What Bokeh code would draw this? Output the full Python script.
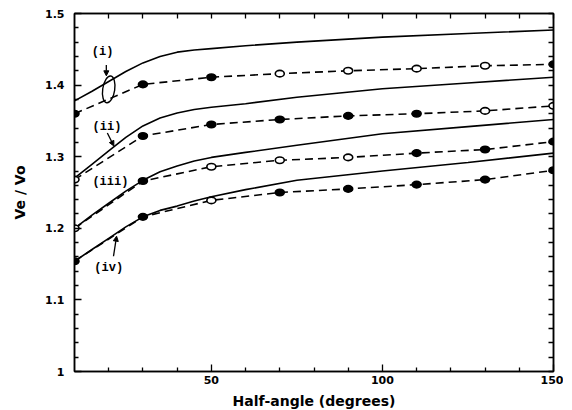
from bokeh.plotting import figure
from bokeh.models import (FixedTicker, LinearAxis, Range1d, Arrow, NormalHead,
                          CustomJSTickFormatter, ColumnDataSource, Label)
from bokeh.embed import file_html
from bokeh.resources import INLINE

# ---- data ----
x_pts = [10, 30, 50, 70, 90, 110, 130, 150]
i_dash = [1.360, 1.401, 1.411, 1.416, 1.420, 1.423, 1.427, 1.429]
ii_dash = [1.268, 1.329, 1.345, 1.352, 1.357, 1.360, 1.364, 1.371]
iii_dash = [1.200, 1.266, 1.286, 1.295, 1.299, 1.305, 1.310, 1.321]
iv_dash = [1.154, 1.216, 1.239, 1.250, 1.255, 1.261, 1.268, 1.281]

i_filled = [1, 1, 1, 0, 0, 0, 0, 1]
ii_filled = [0, 1, 1, 1, 1, 1, 0, 0]
iii_filled = [0, 1, 0, 0, 0, 1, 1, 1]
iv_filled = [1, 1, 0, 1, 1, 1, 1, 1]

x_solid = [10, 15, 20, 25, 30, 35, 40, 45, 50, 60, 75, 100, 125, 150]
i_solid = [1.378, 1.391, 1.405, 1.419, 1.431, 1.440, 1.446, 1.449, 1.451, 1.455, 1.460, 1.467, 1.472, 1.477]
ii_solid = [1.270, 1.289, 1.308, 1.327, 1.343, 1.354, 1.361, 1.366, 1.369, 1.374, 1.383, 1.395, 1.403, 1.411]
iii_solid = [1.200, 1.218, 1.235, 1.252, 1.267, 1.279, 1.287, 1.294, 1.299, 1.306, 1.316, 1.332, 1.342, 1.352]
iv_solid = [1.154, 1.170, 1.186, 1.202, 1.216, 1.225, 1.231, 1.238, 1.244, 1.254, 1.267, 1.280, 1.292, 1.305]

x_major = [50, 100, 150]
x_minor = [20, 30, 40, 60, 70, 80, 90, 110, 120, 130, 140]
y_major = [1.0, 1.1, 1.2, 1.3, 1.4, 1.5]
y_minor = [1.02, 1.04, 1.06, 1.08, 1.12, 1.14, 1.16, 1.18, 1.22, 1.24, 1.26, 1.28,
           1.32, 1.34, 1.36, 1.38, 1.42, 1.44, 1.46, 1.48]

curve_labels = ["(i)", "(ii)", "(iii)", "(iv)"]
label_x = [18.2, 19.5, 20.5, 20.0]
label_y = [1.446, 1.342, 1.264, 1.145]
arrow_start = [(19.3, 1.428), (19.6, 1.333), (21.4, 1.161)]
arrow_end = [(19.3, 1.413), (21.5, 1.315), (22.3, 1.189)]

FONT = "DejaVu Sans"

p = figure(frame_width=479, frame_height=358,
           x_range=Range1d(10, 150), y_range=Range1d(1.0, 1.5),
           output_backend="svg", toolbar_location=None,
           min_border_left=74, min_border_top=13, min_border_right=10,
           min_border_bottom=0, x_axis_label="Half-angle (degrees)",
           y_axis_label="Ve / Vo")
p.xgrid.visible = False
p.ygrid.visible = False
p.outline_line_color = "black"
p.outline_line_width = 1.5
p.background_fill_color = "white"

xt = FixedTicker(ticks=x_major, minor_ticks=x_minor)
yt = FixedTicker(ticks=y_major, minor_ticks=y_minor)

def style(ax):
    ax.axis_line_width = 1.5
    ax.axis_line_color = "black"
    ax.major_tick_in = 7
    ax.major_tick_out = 0
    ax.minor_tick_in = 4
    ax.minor_tick_out = 0
    ax.major_tick_line_width = 1.3
    ax.minor_tick_line_width = 1.3
    ax.major_label_text_font = FONT
    ax.major_label_text_font_style = "bold"
    ax.major_label_text_font_size = "11px"
    ax.major_label_text_color = "black"
    ax.axis_label_text_font = FONT
    ax.axis_label_text_font_style = "bold"
    ax.axis_label_text_font_size = "14px"
    ax.axis_label_text_color = "black"

p.xaxis.ticker = xt
p.yaxis.ticker = yt
p.yaxis.formatter = CustomJSTickFormatter(code="return tick.toFixed(1).replace(/\\.0$/, '');")
style(p.xaxis[0])
style(p.yaxis[0])
p.xaxis.major_label_standoff = 4
p.xaxis.axis_label_standoff = 6
p.yaxis.major_label_standoff = 10
p.yaxis.axis_label_standoff = 14
p.yaxis.major_label_orientation = "horizontal"

# top and right axes: ticks only, no labels
top = LinearAxis(ticker=FixedTicker(ticks=[], minor_ticks=x_major + x_minor),
                 major_label_standoff=0)
style(top)
top.minor_tick_in = 5
p.add_layout(top, "above")
right = LinearAxis(ticker=FixedTicker(ticks=[], minor_ticks=y_major + y_minor),
                   major_label_standoff=0)
style(right)
right.minor_tick_in = 5
p.add_layout(right, "right")

dash_series = [i_dash, ii_dash, iii_dash, iv_dash]
fill_series = [i_filled, ii_filled, iii_filled, iv_filled]
solid_series = [i_solid, ii_solid, iii_solid, iv_solid]

for ys in solid_series:
    p.line(x_solid, ys, line_color="black", line_width=1.6)

for ys, fl in zip(dash_series, fill_series):
    p.line(x_pts, ys, line_color="black", line_width=1.6, line_dash="8 5")
    src = ColumnDataSource(dict(x=x_pts, y=ys,
                                fc=["black" if f else "white" for f in fl]))
    p.ellipse(x="x", y="y", width=9, height=6.5, width_units="screen",
              height_units="screen", source=src, fill_color="fc",
              line_color="black", line_width=1.6)

# annotation ellipse around curve pair (i)
p.ellipse(x=[20.0], y=[1.394], width=12, height=27, width_units="screen",
          height_units="screen", angle=-0.15, fill_alpha=0,
          line_color="black", line_width=1.4)

for t, lx, ly in zip(curve_labels, label_x, label_y):
    p.add_layout(Label(x=lx, y=ly, text=t, text_font="Liberation Mono",
                       text_font_style="bold", text_font_size="12px",
                       text_align="center", text_baseline="middle",
                       text_color="black"))

for (x0, y0), (x1, y1) in zip(arrow_start, arrow_end):
    p.add_layout(Arrow(x_start=x0, y_start=y0, x_end=x1, y_end=y1,
                       line_width=1.3, line_color="black",
                       end=NormalHead(size=5, fill_color="black", line_color="black")))

open("out.html", "w").write(file_html(p, INLINE))
